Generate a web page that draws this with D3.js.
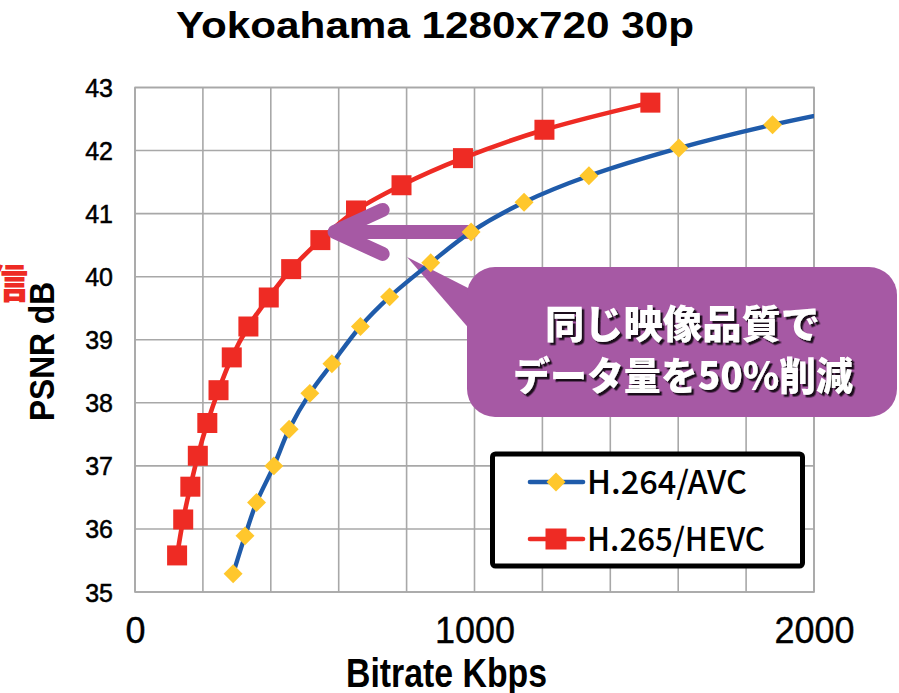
<!DOCTYPE html>
<html>
<head>
<meta charset="utf-8">
<script src="https://cdn.jsdelivr.net/npm/d3@7/dist/d3.min.js"></script>
<style>
  html, body { margin: 0; padding: 0; background: #fff; }
  svg { display: block; }
</style>
</head>
<body>
<svg id="chart" width="899" height="693"></svg>
<script>
// ---- Data ----
const titleText = "Yokoahama 1280x720 30p";
const xTickLabels = [0, 1000, 2000];
const yTickLabels = [35, 36, 37, 38, 39, 40, 41, 42, 43];
const seriesNames = ["H.264/AVC", "H.265/HEVC"];

const avcBitrate = [289, 324, 358, 409, 454, 515, 580, 664, 750, 871, 990, 1146, 1337, 1602, 1878, 2150];
const avcPSNR    = [35.29, 35.89, 36.42, 37.00, 37.58, 38.15, 38.62, 39.21, 39.68, 40.22, 40.71, 41.18, 41.60, 42.04, 42.41, 42.71];

const hevcBitrate = [124, 142, 163, 185, 213, 246, 285, 334, 394, 460, 546, 651, 785, 966, 1206, 1518];
const hevcPSNR    = [35.58, 36.15, 36.67, 37.16, 37.68, 38.20, 38.72, 39.21, 39.67, 40.12, 40.58, 41.05, 41.45, 41.88, 42.33, 42.76];

// annotation arrow (from H.264 point to H.265 curve at equal quality)
const arrowFrom = { x: 990, y: 40.71 };
const arrowTo   = { x: 588, y: 40.71 };
const calloutLines = ["同じ映像品質で", "データ量を50%削減"];

// ---- Layout ----
const svg = d3.select("#chart");
const L = 135, R = 814, T = 87.5, B = 592;
const x = d3.scaleLinear().domain([0, 2000]).range([L, R]);
const y = d3.scaleLinear().domain([35, 43]).range([B, T]);

const RED = "#EE2B24", BLUE = "#1F5BAA", YELLOW = "#FFC72C", PURPLE = "#A659A4", GRID = "#A8A8A8";

const defs = svg.append("defs");
defs.append("clipPath").attr("id", "plotClip")
  .append("rect").attr("x", L).attr("y", T - 20).attr("width", R - L).attr("height", B - T + 40);
const f = defs.append("filter").attr("id", "shadow").attr("x", "-10%").attr("y", "-20%").attr("width", "130%").attr("height", "160%");
f.append("feDropShadow").attr("dx", 2.5).attr("dy", 2.5).attr("stdDeviation", 0.6)
  .attr("flood-color", "#1a0a1a").attr("flood-opacity", 1);

// gridlines
const gx = d3.range(0, 2001, 200);
svg.append("g").selectAll("line").data(gx).join("line")
  .attr("x1", d => x(d)).attr("x2", d => x(d)).attr("y1", T).attr("y2", B)
  .attr("stroke", GRID).attr("stroke-width", 1.6);
svg.append("g").selectAll("line").data(yTickLabels).join("line")
  .attr("x1", L).attr("x2", R).attr("y1", d => y(d)).attr("y2", d => y(d))
  .attr("stroke", GRID).attr("stroke-width", 1.6);

// tick labels via d3 axes
const yAxis = d3.axisLeft(y).tickValues(yTickLabels).tickSize(0).tickPadding(0).tickFormat(d3.format("d"));
const yg = svg.append("g").attr("transform", `translate(${113},0)`).call(yAxis);
yg.select(".domain").remove();
yg.selectAll("text").attr("font-family", "Liberation Sans, Arial, sans-serif")
  .attr("font-size", 25).attr("fill", "#000").attr("stroke", "#000").attr("stroke-width", 0.5)
  .attr("dy", "0.36em").attr("text-anchor", "end");

const xAxis = d3.axisBottom(x).tickValues(xTickLabels).tickSize(0).tickPadding(0).tickFormat(d3.format("d"));
const xg = svg.append("g").attr("transform", `translate(0,${643})`).call(xAxis);
xg.select(".domain").remove();
xg.selectAll("text").attr("font-family", "Liberation Sans, Arial, sans-serif")
  .attr("font-size", 36).attr("fill", "#000").attr("stroke", "#000").attr("stroke-width", 0.4)
  .attr("dy", 0).attr("y", 0);

// titles
svg.append("text").attr("x", 176).attr("y", 38).text(titleText)
  .attr("font-family", "Liberation Sans, Arial, sans-serif").attr("font-weight", "bold")
  .attr("font-size", 37).attr("textLength", 518).attr("lengthAdjust", "spacingAndGlyphs");

svg.append("text").attr("x", 346).attr("y", 687).text("Bitrate Kbps")
  .attr("font-family", "Liberation Sans, Arial, sans-serif").attr("font-weight", "bold")
  .attr("font-size", 40).attr("textLength", 201).attr("lengthAdjust", "spacingAndGlyphs");

svg.append("text").attr("transform", "translate(54,421) rotate(-90)").text("PSNR dB")
  .attr("font-family", "Liberation Sans, Arial, sans-serif").attr("font-weight", "bold")
  .attr("font-size", 35).attr("textLength", 139).attr("lengthAdjust", "spacingAndGlyphs");

// clipped red glyph at left edge
svg.append("text").attr("x", -12).attr("y", 298).text("信")
  .attr("font-family", "Noto Sans CJK JP, sans-serif").attr("font-weight", "900")
  .attr("font-size", 40).attr("fill", RED);

// plot border
svg.append("rect").attr("x", L).attr("y", T).attr("width", R - L).attr("height", B - T)
  .attr("fill", "none").attr("stroke", GRID).attr("stroke-width", 1.6);

const avc = avcBitrate.map((b, i) => ({ x: b, y: avcPSNR[i] }));
const hevc = hevcBitrate.map((b, i) => ({ x: b, y: hevcPSNR[i] }));
const line = d3.line().x(d => x(d.x)).y(d => y(d.y)).curve(d3.curveCatmullRom.alpha(0.5));

const plot = svg.append("g").attr("clip-path", "url(#plotClip)");

// H.265 series
plot.append("path").datum(hevc).attr("d", line).attr("fill", "none")
  .attr("stroke", RED).attr("stroke-width", 4.6).attr("stroke-linejoin", "round");
plot.append("g").selectAll("rect").data(hevc).join("rect")
  .attr("x", d => x(d.x) - 10).attr("y", d => y(d.y) - 10).attr("width", 20).attr("height", 20)
  .attr("fill", RED);

// arrow
const ax1 = x(arrowFrom.x), ay = y(arrowFrom.y), ax2 = x(arrowTo.x);
const arrowPath = d3.path();
arrowPath.moveTo(ax1, ay); arrowPath.lineTo(ax2, ay);
arrowPath.moveTo(ax2 + 48, ay - 22); arrowPath.lineTo(ax2, ay); arrowPath.lineTo(ax2 + 48, ay + 22);
svg.append("path").attr("d", arrowPath.toString()).attr("fill", "none")
  .attr("stroke", PURPLE).attr("stroke-width", 14).attr("stroke-linecap", "round").attr("stroke-linejoin", "round");

// callout
const cg = svg.append("g");
cg.append("path").attr("d", "M407,257 L472,290 L472,332 Z").attr("fill", PURPLE);
cg.append("rect").attr("x", 467).attr("y", 267).attr("width", 430).attr("height", 150)
  .attr("rx", 28).attr("fill", PURPLE);
const cl = [{ t: calloutLines[0], cx: 682.5, cy: 321, w: 275 }, { t: calloutLines[1], cx: 683, cy: 373, w: 340 }];
cl.forEach(o => {
  cg.append("text").attr("x", o.cx).attr("y", o.cy).text(o.t)
    .attr("text-anchor", "middle").attr("dominant-baseline", "central")
    .attr("font-family", "Noto Sans CJK JP, sans-serif").attr("font-weight", "900")
    .attr("font-size", 39).attr("fill", "#fff").attr("filter", "url(#shadow)")
    .attr("textLength", o.w).attr("lengthAdjust", "spacingAndGlyphs");
});

// H.264 series (on top)
const plot2 = svg.append("g").attr("clip-path", "url(#plotClip)");
plot2.append("path").datum(avc).attr("d", line).attr("fill", "none")
  .attr("stroke", BLUE).attr("stroke-width", 4.4).attr("stroke-linejoin", "round");
const ds = 13.4;
plot2.append("g").selectAll("rect").data(avc.filter(d => d.x <= 2000)).join("rect")
  .attr("x", -ds / 2).attr("y", -ds / 2).attr("width", ds).attr("height", ds)
  .attr("transform", d => `translate(${x(d.x)},${y(d.y)}) rotate(45)`)
  .attr("fill", YELLOW);

// legend
const lg = svg.append("g");
lg.append("rect").attr("x", 492.5).attr("y", 454).attr("width", 310).attr("height", 112)
  .attr("rx", 3).attr("fill", "#fff").attr("stroke", "#000").attr("stroke-width", 5);
const legendItems = [
  { name: seriesNames[0], color: BLUE, ly: 482, tw: 160, marker: "diamond" },
  { name: seriesNames[1], color: RED, ly: 539, tw: 178, marker: "square" }
];
legendItems.forEach(it => {
  lg.append("line").attr("x1", 530).attr("x2", 583).attr("y1", it.ly).attr("y2", it.ly)
    .attr("stroke", it.color).attr("stroke-width", 4.6).attr("stroke-linecap", "round");
  if (it.marker === "diamond") {
    lg.append("rect").attr("x", -ds / 2).attr("y", -ds / 2).attr("width", ds).attr("height", ds)
      .attr("transform", `translate(556,${it.ly}) rotate(45)`).attr("fill", YELLOW);
  } else {
    lg.append("rect").attr("x", 556 - 10.5).attr("y", it.ly - 10.5).attr("width", 21).attr("height", 21)
      .attr("fill", RED);
  }
  lg.append("text").attr("x", 587).attr("y", it.ly + 12).text(it.name)
    .attr("font-family", "Noto Sans CJK JP, sans-serif").attr("font-weight", "500")
    .attr("font-size", 32).attr("textLength", it.tw).attr("lengthAdjust", "spacingAndGlyphs");
});
</script>
</body>
</html>
